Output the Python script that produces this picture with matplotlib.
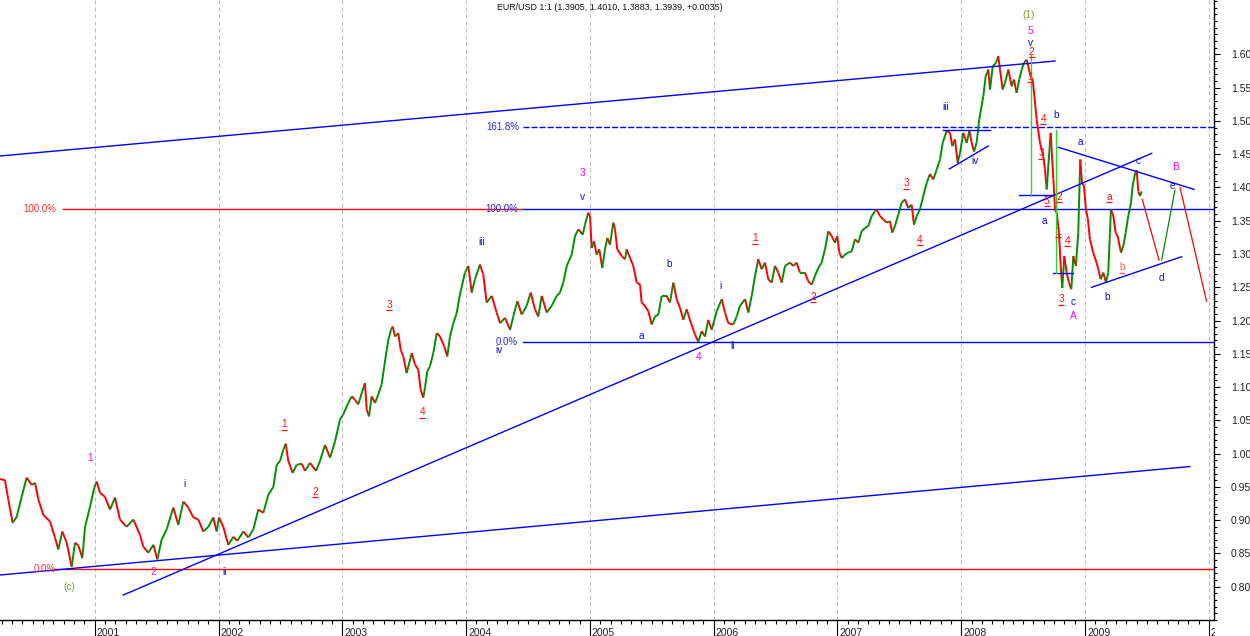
import numpy as np
import matplotlib
matplotlib.use('Agg')
import matplotlib.pyplot as plt
from matplotlib.collections import LineCollection
from matplotlib.ticker import FixedLocator, MultipleLocator, NullFormatter
from matplotlib.transforms import offset_copy, blended_transform_factory, Bbox

plt.rcParams['font.family'] = ['Liberation Sans', 'DejaVu Sans']

# ---------------- data (decimal years, EUR/USD) ----------------
dates = [
    2000.235, 2000.275, 2000.302, 2000.337, 2000.370, 2000.410, 2000.450, 2000.491, 2000.518, 2000.545,
    2000.585, 2000.639, 2000.679, 2000.706, 2000.738, 2000.774, 2000.814, 2000.841, 2000.868, 2000.900,
    2000.922, 2000.962, 2000.997, 2001.016, 2001.043, 2001.083, 2001.124, 2001.164, 2001.204, 2001.258,
    2001.312, 2001.366, 2001.393, 2001.433, 2001.474, 2001.506, 2001.541, 2001.581, 2001.635, 2001.675,
    2001.716, 2001.756, 2001.797, 2001.837, 2001.877, 2001.918, 2001.958, 2001.985, 2002.004, 2002.039,
    2002.079, 2002.120, 2002.152, 2002.201, 2002.241, 2002.281, 2002.322, 2002.362, 2002.402, 2002.443,
    2002.470, 2002.497, 2002.524, 2002.543, 2002.564, 2002.599, 2002.631, 2002.672, 2002.699, 2002.739,
    2002.788, 2002.820, 2002.860, 2002.901, 2002.941,
    2002.981, 2003.008, 2003.048, 2003.076, 2003.102, 2003.129, 2003.157, 2003.183, 2003.197, 2003.216,
    2003.237, 2003.264, 2003.291, 2003.318, 2003.337, 2003.359, 2003.372, 2003.393, 2003.407, 2003.426,
    2003.452, 2003.472, 2003.493, 2003.520, 2003.561, 2003.587, 2003.614, 2003.633, 2003.654, 2003.668,
    2003.687, 2003.708, 2003.735, 2003.763, 2003.789, 2003.824, 2003.848, 2003.870, 2003.897, 2003.924,
    2003.951, 2003.991, 2004.018, 2004.045, 2004.072, 2004.112, 2004.139, 2004.166,
    2004.207, 2004.247, 2004.274, 2004.314, 2004.355, 2004.381, 2004.414, 2004.449, 2004.489, 2004.522,
    2004.556, 2004.583, 2004.611, 2004.651, 2004.691, 2004.732, 2004.758, 2004.785, 2004.813, 2004.853,
    2004.880, 2004.907, 2004.942, 2004.960, 2004.987, 2005.001, 2005.015, 2005.033, 2005.055, 2005.076,
    2005.100, 2005.122, 2005.141, 2005.162, 2005.189, 2005.203, 2005.221, 2005.257, 2005.284, 2005.297,
    2005.324, 2005.351, 2005.378, 2005.405, 2005.418, 2005.445, 2005.472, 2005.499, 2005.526, 2005.553,
    2005.580, 2005.620, 2005.647, 2005.674, 2005.701, 2005.728, 2005.755, 2005.782, 2005.808, 2005.849,
    2005.876, 2005.903, 2005.930, 2005.956, 2005.984, 2006.024, 2006.065, 2006.091, 2006.118, 2006.158,
    2006.186, 2006.212,
    2006.253, 2006.280, 2006.307, 2006.334, 2006.360, 2006.388, 2006.414, 2006.441, 2006.469, 2006.495,
    2006.522, 2006.549, 2006.576, 2006.616, 2006.643, 2006.670, 2006.697, 2006.737, 2006.764, 2006.792,
    2006.818, 2006.845, 2006.872, 2006.899, 2006.926, 2006.953, 2006.980, 2006.998, 2007.015, 2007.034,
    2007.061, 2007.087, 2007.115, 2007.141, 2007.168, 2007.195, 2007.222, 2007.249, 2007.276, 2007.303,
    2007.316, 2007.343, 2007.370, 2007.397, 2007.424, 2007.442, 2007.464, 2007.491, 2007.518, 2007.545,
    2007.572, 2007.599, 2007.618, 2007.640, 2007.666, 2007.693, 2007.721, 2007.747, 2007.774, 2007.802,
    2007.828, 2007.850, 2007.882, 2007.909, 2007.928, 2007.949, 2007.971, 2007.990, 2008.016, 2008.044,
    2008.065, 2008.084, 2008.103, 2008.124, 2008.145,
    2008.178, 2008.197, 2008.218, 2008.232, 2008.254, 2008.280, 2008.299, 2008.313, 2008.334, 2008.353,
    2008.380, 2008.407, 2008.425, 2008.447, 2008.468, 2008.488, 2008.506, 2008.528, 2008.541, 2008.560,
    2008.577,
    2008.609, 2008.636, 2008.662, 2008.676, 2008.690, 2008.703, 2008.722, 2008.744, 2008.757, 2008.771,
    2008.789, 2008.803, 2008.816, 2008.832, 2008.851, 2008.870, 2008.889, 2008.905, 2008.926, 2008.945,
    2008.961, 2008.975, 2008.991, 2009.007, 2009.023, 2009.039, 2009.066, 2009.093,
    2009.107, 2009.126, 2009.147, 2009.169, 2009.187, 2009.201, 2009.209, 2009.228, 2009.247, 2009.263,
    2009.290, 2009.309, 2009.328, 2009.349, 2009.371, 2009.384, 2009.403, 2009.417, 2009.430, 2009.444,
    2009.457,
]
prices = [
    0.962, 0.960, 0.931, 0.896, 0.905, 0.935, 0.964, 0.953, 0.956, 0.931,
    0.908, 0.898, 0.874, 0.856, 0.883, 0.866, 0.830, 0.866, 0.862, 0.843,
    0.890, 0.920, 0.949, 0.958, 0.941, 0.935, 0.916, 0.934, 0.901, 0.890,
    0.901, 0.878, 0.860, 0.851, 0.863, 0.841, 0.871, 0.886, 0.919, 0.893,
    0.928, 0.919, 0.904, 0.901, 0.883, 0.890, 0.904, 0.883, 0.904, 0.890,
    0.863, 0.875, 0.869, 0.883, 0.874, 0.886, 0.916, 0.911, 0.938, 0.950,
    0.983, 0.989, 1.006, 1.015, 0.989, 0.971, 0.983, 0.985, 0.974, 0.986,
    0.974, 0.989, 1.013, 0.994, 1.018,
    1.051, 1.059, 1.076, 1.086, 1.081, 1.074, 1.091, 1.106, 1.066, 1.056,
    1.086, 1.076, 1.089, 1.104, 1.129, 1.156, 1.171, 1.186, 1.191, 1.176,
    1.181, 1.156, 1.146, 1.121, 1.151, 1.134, 1.126, 1.096, 1.084, 1.099,
    1.124, 1.131, 1.151, 1.181, 1.176, 1.161, 1.146, 1.176, 1.196, 1.211,
    1.240, 1.272, 1.282, 1.242, 1.262, 1.284, 1.269, 1.227,
    1.237, 1.212, 1.196, 1.204, 1.186, 1.206, 1.229, 1.209, 1.222, 1.242,
    1.217, 1.206, 1.237, 1.212, 1.222, 1.237, 1.242, 1.257, 1.282, 1.299,
    1.327, 1.337, 1.329, 1.344, 1.362, 1.357, 1.309, 1.319, 1.299, 1.307,
    1.279, 1.307, 1.324, 1.314, 1.347, 1.337, 1.307, 1.297, 1.292, 1.307,
    1.294, 1.282, 1.257, 1.254, 1.227, 1.222, 1.214, 1.194, 1.206, 1.209,
    1.237, 1.237, 1.227, 1.257, 1.232, 1.219, 1.201, 1.217, 1.201, 1.179,
    1.168, 1.184, 1.176, 1.201, 1.186, 1.214, 1.232, 1.212, 1.196, 1.194,
    1.206, 1.222,
    1.232, 1.212, 1.237, 1.267, 1.292, 1.277, 1.287, 1.262, 1.257, 1.282,
    1.272, 1.257, 1.282, 1.287, 1.282, 1.287, 1.272, 1.272, 1.259, 1.254,
    1.267, 1.279, 1.287, 1.307, 1.334, 1.327, 1.317, 1.327, 1.302, 1.294,
    1.299, 1.302, 1.304, 1.322, 1.317, 1.334, 1.339, 1.342, 1.357, 1.364,
    1.367, 1.357, 1.352, 1.347, 1.349, 1.332, 1.342, 1.359, 1.377, 1.382,
    1.369, 1.374, 1.344, 1.357, 1.367, 1.387, 1.407, 1.420, 1.412, 1.427,
    1.442, 1.467, 1.485, 1.482, 1.462, 1.472, 1.437, 1.452, 1.482, 1.467,
    1.485, 1.467, 1.454, 1.467, 1.502,
    1.537, 1.567, 1.577, 1.547, 1.582, 1.587, 1.597, 1.577, 1.547, 1.557,
    1.577, 1.552, 1.562, 1.542, 1.562, 1.577, 1.587, 1.592, 1.582, 1.567,
    1.562,
    1.502, 1.467, 1.447, 1.427, 1.397, 1.432, 1.482, 1.412, 1.367, 1.362,
    1.332, 1.282, 1.249, 1.297, 1.272, 1.257, 1.247, 1.297, 1.282, 1.332,
    1.442, 1.407, 1.402, 1.367, 1.352, 1.322, 1.302, 1.287,
    1.277, 1.262, 1.272, 1.257, 1.272, 1.332, 1.367, 1.357, 1.332, 1.327,
    1.302, 1.312, 1.332, 1.357, 1.377, 1.402, 1.420, 1.426, 1.394, 1.387,
    1.394,
]

# projected path (thin lines at the right)
proj_dates = [[2009.462, 2009.597], [2009.619, 2009.726], [2009.767, 2009.981]]
proj_prices = [[1.382, 1.291], [1.291, 1.396], [1.400, 1.229]]

# Fibonacci levels
red_fib_levels = [0.8262, 1.3671]
red_fib_labels = ['0.0%', '100.0%']
blue_fib_levels = [1.1672, 1.3671, 1.4903]
blue_fib_labels = ['0.0%', '100.0%', '161.8%']

# trend lines: (t0, p0, t1, p1)
trend_lines = [
    (2000.235, 1.4472, 2008.757, 1.5899),
    (2000.235, 0.8176, 2009.847, 0.9806),
    (2001.231, 0.7875, 2009.538, 1.4512),
    (2007.852, 1.4870, 2008.232, 1.4870),
    (2007.903, 1.4277, 2008.218, 1.4622),
    (2008.466, 1.3886, 2008.733, 1.3886),
    (2008.741, 1.2709, 2008.902, 1.2709),
    (2008.784, 1.4603, 2009.880, 1.3971),
    (2009.053, 1.2499, 2009.780, 1.2959),
]
measure_lines = [
    (2008.567, 1.5990, 2008.567, 1.3884),
    (2008.767, 1.4862, 2008.767, 1.2709),
]

# wave labels
wave_text = ['1', '(c)', '2', 'i', 'ii', '1', '2', '3', '4', 'iii', 'iv', '3', 'v', 'b', 'a', '4',
             'i', 'ii', '1', '2', '3', '4', 'iii', 'iv', '(1)', '5', 'v', '2', '1', '4', 'b', '3',
             'a', '5', '2', 'a', '1', '4', '3', 'c', 'A', 'b', 'a', 'b', 'c', 'd', 'e', 'B']
wave_t = [2000.962, 2000.792, 2001.473, 2001.724, 2002.047, 2002.531, 2002.779, 2003.380, 2003.646,
          2004.126, 2004.270, 2004.939, 2004.939, 2005.639, 2005.415, 2005.881, 2006.057, 2006.153,
          2006.334, 2006.805, 2007.553, 2007.666, 2007.876, 2008.111, 2008.541, 2008.561, 2008.557,
          2008.569, 2008.555, 2008.662, 2008.765, 2008.644, 2008.965, 2008.690, 2008.792, 2008.670,
          2008.779, 2008.856, 2008.806, 2008.905, 2008.905, 2009.179, 2009.196, 2009.301, 2009.430,
          2009.619, 2009.708, 2009.734]
wave_p = [0.993, 0.799, 0.8225, 0.954, 0.8225, 1.0445, 0.943, 1.224, 1.0625, 1.318, 1.155, 1.422,
          1.386, 1.285, 1.177, 1.1456, 1.252, 1.162, 1.3235, 1.2358, 1.406, 1.321, 1.521, 1.4397,
          1.6595, 1.635, 1.6165, 1.604, 1.5663, 1.503, 1.509, 1.4517, 1.4687, 1.3796, 1.386, 1.3495,
          1.3334, 1.3195, 1.2323, 1.2283, 1.2068, 1.2358, 1.386, 1.280, 1.4397, 1.2643, 1.4026, 1.431]
wave_kind = ['m', 'o', 'm', 'b', 'b', 'r', 'r', 'r', 'r', 'b', 'b', 'm', 'b', 'b', 'b', 'm',
             'b', 'b', 'r', 'r', 'r', 'r', 'b', 'b', 'o', 'm', 'b', 'r', 'r', 'r', 'b', 'r',
             'b', 'r', 'r', 'b', 'r', 'r', 'r', 'b', 'm', 'b', 'r', 'g', 'b', 'b', 'b', 'm']

title_text = 'EUR/USD 1:1 (1.3905, 1.4010, 1.3883, 1.3939, +0.0035)'
years = list(range(2001, 2011))
y_major = [round(0.80 + 0.05 * k, 2) for k in range(17)]

# ---------------- styles ----------------
GREEN = '#009000'
RED = '#FF0000'
BLUE = '#0000FF'
kind_color = {'m': '#FF00FF', 'o': '#7FA02A', 'b': '#1010E8', 'r': '#FF1010', 'g': '#FF5A3C'}

fig = plt.figure(figsize=(12.5, 6.36), dpi=100)
ax = fig.add_axes([0.0, 16 / 636, 1213.7 / 1250, 620 / 636])
ax.set_xlim(2000.235, 2010.039)
ax.set_ylim(0.750, 1.6816)

# grid
for yv in years:
    ax.axvline(yv, color='#BDBDBD', lw=0.72, dashes=(4, 3), zorder=1)

# fib lines
ax.plot([2000.679, 2010.1], [red_fib_levels[0]] * 2, color=RED, lw=1.0, zorder=2)
ax.plot([2000.744, 2004.462], [red_fib_levels[1]] * 2, color=RED, lw=1.0, zorder=2)
ax.plot([2004.462, 2010.1], [blue_fib_levels[0]] * 2, color=BLUE, lw=1.0, zorder=2)
ax.plot([2004.462, 2010.1], [blue_fib_levels[1]] * 2, color=BLUE, lw=1.0, zorder=2)
ax.plot([2004.462, 2010.1], [blue_fib_levels[2]] * 2, color=BLUE, lw=1.0, dashes=(4.3, 1.5), zorder=2)

# price path
t = np.array(dates)
p = np.array(prices)
segs = np.stack([np.column_stack([t[:-1], p[:-1]]), np.column_stack([t[1:], p[1:]])], axis=1)
cols = np.where(p[1:] >= p[:-1], GREEN, RED)
ax.add_collection(LineCollection(segs, colors=cols, linewidths=1.4, zorder=3))

# projections
for (d0, d1), (q0, q1) in zip(proj_dates, proj_prices):
    ax.plot([d0, d1], [q0, q1], color=GREEN if q1 > q0 else RED, lw=0.9, zorder=3)

# trend lines
for (a0, b0, a1, b1) in trend_lines:
    ax.plot([a0, a1], [b0, b1], color=BLUE, lw=1.0, zorder=4)
for (a0, b0, a1, b1) in measure_lines:
    ax.plot([a0, a1], [b0, b1], color='#22DD22', lw=1.0, zorder=4)

# fib texts
ax.text(2000.593, red_fib_levels[0], red_fib_labels[0], color='#FF3030', fontsize=7, ha='center', va='center', zorder=6)
ax.text(2000.558, red_fib_levels[1], red_fib_labels[1], color='#FF3030', fontsize=7, ha='center', va='center', zorder=6)
ax.text(2004.328, blue_fib_levels[0], blue_fib_labels[0], color='#2A2AF0', fontsize=7, ha='center', va='center', zorder=6)
ax.text(2004.292, blue_fib_levels[1], blue_fib_labels[1], color='#2A2AF0', fontsize=7, ha='center', va='center', zorder=6)
ax.text(2004.298, blue_fib_levels[2], blue_fib_labels[2], color='#2A2AF0', fontsize=7, ha='center', va='center', zorder=6)

# wave labels
ul_trans = offset_copy(ax.transData, fig=fig, x=0, y=-5.5, units='dots')
for s, tt, pp, k in zip(wave_text, wave_t, wave_p, wave_kind):
    c = kind_color[k]
    ax.text(tt, pp, s, color=c, fontsize=7.3, ha='center', va='center', zorder=6)
    if k in ('r', 'g'):
        ax.plot([tt], [pp], marker='_', ms=4.5, mew=0.9, color=c, transform=ul_trans,
                zorder=6, clip_on=False)

# axes styling
for side in ('top', 'left'):
    ax.spines[side].set_visible(False)
ax.spines['right'].set_linewidth(1.0)
ax.spines['bottom'].set_linewidth(1.0)
ax.yaxis.tick_right()
ax.yaxis.set_major_locator(FixedLocator(y_major))
ax.yaxis.set_minor_locator(MultipleLocator(0.01))
ax.set_yticklabels(['%.2f' % v for v in y_major])
ax.tick_params(axis='y', which='major', direction='out', length=4.5, width=0.8, pad=8,
               labelsize=7.5, labelcolor='#222222')
ax.tick_params(axis='y', which='minor', direction='out', length=2.2, width=0.8)

ax.xaxis.set_major_locator(FixedLocator(years))
ax.xaxis.set_minor_locator(FixedLocator([y + m / 12 for y in range(2000, 2011) for m in range(1, 12)]))
ax.xaxis.set_major_formatter(NullFormatter())
ax.tick_params(axis='x', which='major', direction='out', length=12, width=0.8)
ax.tick_params(axis='x', which='minor', direction='out', length=3, width=0.8)

xt = blended_transform_factory(ax.transData, ax.transAxes)
yr_trans = offset_copy(xt, fig=fig, x=2, y=-12.5, units='dots')
clip_box = Bbox([[0, 0], [1214.5, 636]])
for yv in years:
    tx = ax.text(yv, 0, str(yv), transform=yr_trans, ha='left', va='center', fontsize=7.5,
                 color='#222222')
    tx.set_clip_on(True)
    tx.set_clip_box(clip_box)

fig.text(497 / 1250, 1 - 7 / 636, title_text, ha='left', va='center', fontsize=6.4, color='#111111')

fig.savefig('out.png', dpi=100)
